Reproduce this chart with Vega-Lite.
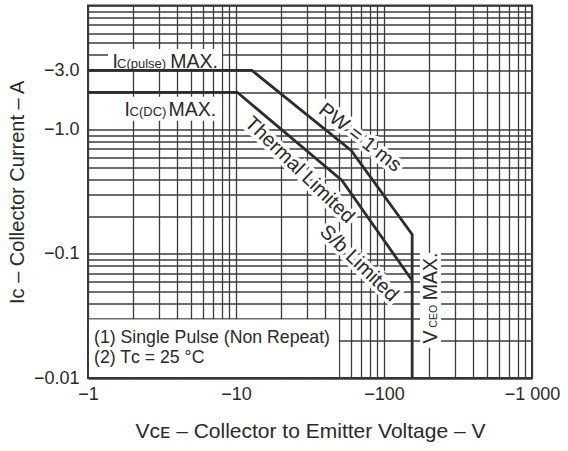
{
  "$schema": "https://vega.github.io/schema/vega-lite/v6.json",
  "width": 444,
  "height": 372.5,
  "autosize": {"type": "none"},
  "padding": {"left": 88, "top": 5.5, "right": 36, "bottom": 73},
  "background": "white",
  "config": {
    "view": {"stroke": "#333333", "strokeWidth": 2},
    "font": "Liberation Sans",
    "text": {"font": "Liberation Sans", "color": "#2a2a2a"}
  },
  "encoding": {
    "x": {
      "field": "x", "type": "quantitative",
      "scale": {"type": "log", "domain": [1, 1000], "nice": false},
      "axis": {
        "values": [1,2,3,4,5,6,7,8,9,10,20,30,40,50,60,70,80,90,100,200,300,400,500,600,700,800,900,1000],
        "labelExpr": "datum.value === 1 ? '−1' : datum.value === 10 ? '−10' : datum.value === 100 ? '−100' : datum.value === 1000 ? '−1 000' : ''",
        "title": "Vᴄᴇ – Collector to Emitter Voltage – V",
        "grid": true, "gridColor": "#3c3c3c", "gridWidth": 1.3, "gridOpacity": 1,
        "ticks": false, "domain": false,
        "labelFont": "Liberation Sans", "labelFontSize": 18, "labelColor": "#2a2a2a",
        "labelPadding": 7, "labelFlush": false, "labelOverlap": false,
        "titleFont": "Liberation Sans", "titleFontSize": 21, "titleFontWeight": "normal",
        "titleColor": "#2a2a2a", "titlePadding": 17
      }
    },
    "y": {
      "field": "y", "type": "quantitative",
      "scale": {"type": "log", "domain": [0.01, 10], "nice": false},
      "axis": {
        "values": [0.01,0.02,0.03,0.04,0.05,0.06,0.07,0.08,0.09,0.1,0.2,0.3,0.4,0.5,0.6,0.7,0.8,0.9,1,2,3,4,5,6,7,8,9,10],
        "labelExpr": "datum.value === 0.01 ? '−0.01' : datum.value === 0.1 ? '−0.1' : datum.value === 1 ? '−1.0' : datum.value === 3 ? '−3.0' : ''",
        "title": "Iᴄ – Collector Current – A",
        "grid": true, "gridColor": "#3c3c3c", "gridWidth": 1.3, "gridOpacity": 1,
        "ticks": false, "domain": false,
        "labelFont": "Liberation Sans", "labelFontSize": 18, "labelColor": "#2a2a2a",
        "labelPadding": 9, "labelOverlap": false, "labelFlush": false,
        "titleFont": "Liberation Sans", "titleFontSize": 20, "titleFontWeight": "normal",
        "titleColor": "#2a2a2a", "titlePadding": 6
      }
    }
  },
  "layer": [
    {
      "data": {"values": [
        {"x": 1.365, "x2": 8.04, "y": 3.09, "y2": 4.47},
        {"x": 1.645, "x2": 8.04, "y": 1.181, "y2": 1.84},
        {"x": 175, "x2": 243, "y": 0.0175, "y2": 0.1017},
        {"x": 1.016, "x2": 49.4, "y": 0.01019, "y2": 0.0296}
      ]},
      "mark": {"type": "rect", "fill": "white", "stroke": null},
      "encoding": {"x2": {"field": "x2"}, "y2": {"field": "y2"}}
    },
    {
      "data": {"values": [{"t": "PW = 1 ms", "x": 68.8, "y": 0.862}]},
      "mark": {"type": "text", "angle": 38, "align": "center", "baseline": "middle", "fontSize": 20, "stroke": "white", "strokeWidth": 7, "color": "white"},
      "encoding": {"text": {"field": "t"}}
    },
    {
      "data": {"values": [
        {"t": "Thermal Limited", "x": 26.9, "y": 0.473},
        {"t": "S/b Limited", "x": 67.8, "y": 0.0838}
      ]},
      "mark": {"type": "text", "angle": 44, "align": "center", "baseline": "middle", "fontSize": 20, "stroke": "white", "strokeWidth": 7, "color": "white"},
      "encoding": {"text": {"field": "t"}}
    },
    {
      "data": {"values": [
        {"series": "DC", "i": 1, "x": 1, "y": 2},
        {"series": "DC", "i": 2, "x": 10.2, "y": 2},
        {"series": "DC", "i": 3, "x": 52, "y": 0.39},
        {"series": "DC", "i": 4, "x": 155, "y": 0.061},
        {"series": "Pulse", "i": 1, "x": 1, "y": 3},
        {"series": "Pulse", "i": 2, "x": 12.8, "y": 3},
        {"series": "Pulse", "i": 3, "x": 60, "y": 0.68},
        {"series": "Pulse", "i": 4, "x": 155, "y": 0.143},
        {"series": "Pulse", "i": 5, "x": 155, "y": 0.01}
      ]},
      "mark": {"type": "line", "color": "#2d2d2d", "strokeWidth": 2.8},
      "encoding": {"detail": {"field": "series"}, "order": {"field": "i", "type": "quantitative"}}
    },
    {
      "data": {"values": [{"t": "PW = 1 ms", "x": 68.8, "y": 0.862}]},
      "mark": {"type": "text", "angle": 38, "align": "center", "baseline": "middle", "fontSize": 20},
      "encoding": {"text": {"field": "t"}}
    },
    {
      "data": {"values": [
        {"t": "Thermal Limited", "x": 26.9, "y": 0.473},
        {"t": "S/b Limited", "x": 67.8, "y": 0.0838}
      ]},
      "mark": {"type": "text", "angle": 44, "align": "center", "baseline": "middle", "fontSize": 20},
      "encoding": {"text": {"field": "t"}}
    },
    {
      "data": {"values": [
        {"t": "I", "x": 1.464, "y": 3.165},
        {"t": "MAX.", "x": 3.6, "y": 3.165},
        {"t": "I", "x": 1.765, "y": 1.296},
        {"t": "MAX.", "x": 3.5, "y": 1.296}
      ]},
      "mark": {"type": "text", "align": "left", "baseline": "alphabetic", "fontSize": 19.5},
      "encoding": {"text": {"field": "t"}}
    },
    {
      "data": {"values": [
        {"t": "C(pulse)", "x": 1.57, "y": 3.165},
        {"t": "C(DC)", "x": 1.908, "y": 1.296}
      ]},
      "mark": {"type": "text", "align": "left", "baseline": "alphabetic", "fontSize": 13},
      "encoding": {"text": {"field": "t"}}
    },
    {
      "data": {"values": [
        {"t": "V", "x": 227, "y": 0.01893},
        {"t": "MAX.", "x": 227, "y": 0.0423}
      ]},
      "mark": {"type": "text", "angle": 270, "align": "left", "baseline": "alphabetic", "fontSize": 19.5},
      "encoding": {"text": {"field": "t"}}
    },
    {
      "data": {"values": [{"t": "CEO", "x": 227, "y": 0.02545}]},
      "mark": {"type": "text", "angle": 270, "align": "left", "baseline": "alphabetic", "fontSize": 10.5},
      "encoding": {"text": {"field": "t"}}
    },
    {
      "data": {"values": [
        {"t": "(1) Single Pulse (Non Repeat)", "x": 1.098, "y": 0.019},
        {"t": "(2) Tᴄ = 25 °C", "x": 1.098, "y": 0.01327}
      ]},
      "mark": {"type": "text", "align": "left", "baseline": "alphabetic", "fontSize": 17.7},
      "encoding": {"text": {"field": "t"}}
    }
  ]
}
